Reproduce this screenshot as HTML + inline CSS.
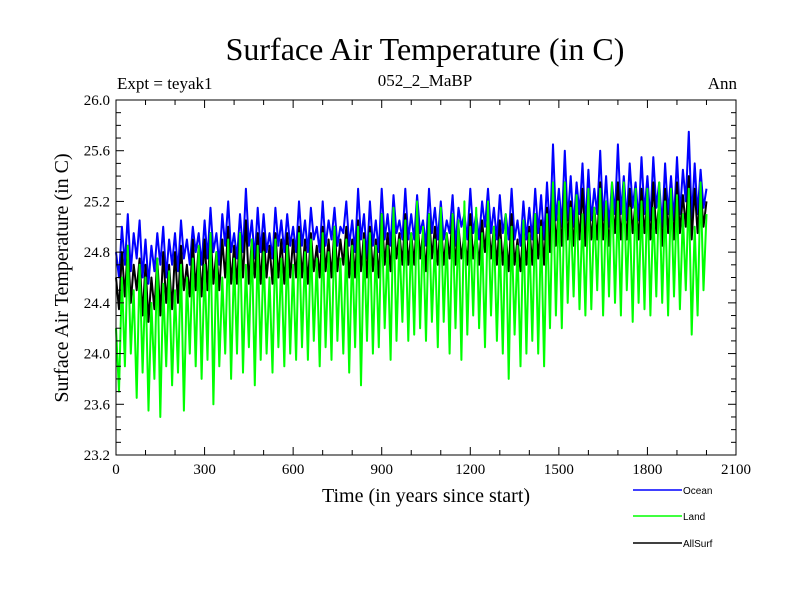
<!DOCTYPE html>
<html><head><meta charset="utf-8"><style>body{margin:0;background:#fff}svg{display:block}</style></head>
<body>
<svg id="chart" width="800" height="600" xmlns="http://www.w3.org/2000/svg">
<rect width="800" height="600" fill="#fff"/>
<text x="425" y="60" text-anchor="middle" font-family="Liberation Serif, serif" font-size="32">Surface Air Temperature (in C)</text>
<text x="117" y="89" font-family="Liberation Serif, serif" font-size="17">Expt = teyak1</text>
<text x="425" y="86" text-anchor="middle" font-family="Liberation Serif, serif" font-size="17">052_2_MaBP</text>
<text x="737" y="89" text-anchor="end" font-family="Liberation Serif, serif" font-size="17">Ann</text>
<text transform="translate(68,278) rotate(-90)" text-anchor="middle" font-family="Liberation Serif, serif" font-size="20">Surface Air Temperature (in C)</text>
<text x="426" y="502" text-anchor="middle" font-family="Liberation Serif, serif" font-size="20">Time (in years since start)</text>
<g id="series"></g>
<g id="axes"></g>
<g font-family="Liberation Sans, sans-serif" font-size="10">
<line x1="633" y1="490" x2="682" y2="490" stroke="#0000ff" stroke-width="1.5"/>
<text x="683" y="494">Ocean</text>
<line x1="633" y1="516" x2="682" y2="516" stroke="#00ff00" stroke-width="1.5"/>
<text x="683" y="520">Land</text>
<line x1="633" y1="543" x2="682" y2="543" stroke="#000" stroke-width="1.5"/>
<text x="683" y="547">AllSurf</text>
</g>
</svg>
<script>
const yearStep = 10;
const ocean = [
24.8,24.6,25.0,24.7,25.1,24.65,24.95,24.75,25.05,24.6,
24.9,24.55,24.85,24.65,24.95,24.7,25.0,24.6,24.9,24.7,
24.95,24.65,25.05,24.75,24.9,24.7,25.0,24.8,24.95,24.7,
25.05,24.75,25.15,24.8,24.95,24.7,25.1,24.85,25.2,24.8,
24.95,24.75,25.1,24.8,25.3,24.85,25.05,24.75,25.15,24.8,
25.1,24.8,24.95,24.75,25.15,24.85,25.05,24.8,25.1,24.85,
25.0,24.8,25.2,24.85,25.05,24.8,25.15,24.9,25.0,24.8,
25.2,24.85,25.05,24.9,25.15,24.85,25.0,24.95,25.2,24.85,
25.05,24.8,25.3,24.9,25.1,24.75,25.2,24.85,25.05,24.8,
25.3,24.9,25.1,24.85,25.25,24.95,25.05,24.9,25.3,24.9,
25.1,24.9,25.25,24.95,25.05,24.85,25.3,24.95,25.15,24.9,
25.2,24.9,25.05,24.95,25.25,24.85,25.15,25.0,25.1,24.9,
25.3,24.95,25.1,24.9,25.2,25.0,25.3,24.95,25.15,24.9,
25.25,24.95,25.1,24.9,25.3,24.9,25.05,24.85,25.2,24.9,
25.15,24.9,25.3,24.95,25.25,24.9,25.35,24.95,25.65,25.05,
25.3,25.0,25.6,25.05,25.4,25.0,25.35,25.1,25.5,25.0,
25.45,25.05,25.3,25.1,25.6,25.05,25.4,25.0,25.35,25.1,
25.65,25.1,25.4,25.05,25.5,25.15,25.35,25.05,25.55,25.1,
25.4,25.05,25.55,25.15,25.35,25.0,25.5,25.1,25.4,25.05,
25.55,25.1,25.45,25.2,25.75,25.05,25.5,25.1,25.45,25.15,
25.3];
const land = [
24.2,23.7,24.6,23.9,24.85,24.0,24.5,23.65,24.7,23.85,
24.6,23.55,24.4,23.8,24.75,23.5,24.55,23.9,24.65,23.75,
24.5,23.85,24.7,23.55,24.6,24.0,24.75,23.9,24.85,23.8,
24.7,23.95,24.95,23.6,24.8,23.9,24.6,24.0,24.9,23.8,
24.75,24.0,24.95,23.85,24.7,24.05,24.9,23.75,24.85,23.95,
24.8,24.0,24.6,23.85,24.9,24.05,24.75,23.9,24.85,24.0,
24.7,23.95,24.95,24.05,24.8,23.95,24.9,24.1,24.75,23.9,
24.95,24.05,24.8,23.95,25.0,24.1,24.75,24.0,24.9,23.85,
24.85,24.05,25.0,23.75,24.9,24.1,24.95,24.0,24.85,24.05,
25.1,24.2,24.85,23.95,25.15,24.1,24.9,24.25,25.05,24.1,
24.95,24.15,25.2,24.2,25.0,24.1,25.1,24.25,24.9,24.05,
25.15,24.25,24.95,24.0,25.1,24.2,25.05,23.95,25.2,24.15,
25.0,24.3,25.15,24.2,24.95,24.05,25.2,24.3,25.0,24.1,
24.9,24.0,25.1,23.8,25.0,24.15,24.85,23.9,25.05,24.0,
24.95,24.1,25.1,24.0,25.0,23.9,25.1,24.2,25.35,24.3,
25.2,24.2,25.35,24.4,25.15,24.45,25.25,24.35,25.1,24.3,
25.3,24.35,25.15,24.5,25.3,24.3,25.2,24.45,25.35,24.4,
25.2,24.3,25.35,24.5,25.15,24.25,25.3,24.4,25.2,24.35,
25.3,24.3,25.15,24.45,25.35,24.4,25.2,24.3,25.3,24.45,
25.25,24.35,25.1,24.5,25.3,24.15,25.0,24.3,25.35,24.5,
25.1];
const allSurf = [
24.6,24.35,24.8,24.45,24.85,24.4,24.7,24.5,24.75,24.3,
24.7,24.25,24.6,24.35,24.75,24.3,24.8,24.4,24.7,24.35,
24.8,24.4,24.85,24.5,24.7,24.45,24.9,24.5,24.85,24.45,
24.9,24.5,24.95,24.55,24.8,24.5,24.9,24.6,25.0,24.55,
24.85,24.55,24.95,24.6,25.05,24.55,24.9,24.6,24.95,24.55,
24.95,24.6,24.85,24.55,24.95,24.6,24.9,24.55,24.95,24.6,
24.9,24.6,25.0,24.6,24.9,24.55,24.95,24.65,24.85,24.6,
25.0,24.65,24.9,24.6,25.0,24.65,24.9,24.7,25.0,24.6,
24.9,24.6,25.05,24.65,24.95,24.6,25.0,24.65,24.9,24.6,
25.1,24.7,24.95,24.65,25.05,24.75,24.95,24.7,25.1,24.7,
24.95,24.7,25.1,24.75,24.95,24.65,25.1,24.75,25.0,24.7,
25.05,24.7,24.95,24.75,25.1,24.7,25.0,24.75,24.95,24.7,
25.1,24.75,24.95,24.7,25.05,24.8,25.1,24.75,25.0,24.7,
25.05,24.7,24.95,24.65,25.1,24.7,24.9,24.65,25.0,24.7,
25.0,24.7,25.1,24.75,25.05,24.7,25.15,24.8,25.3,24.85,
25.15,24.85,25.35,24.9,25.2,24.85,25.2,24.9,25.3,24.85,
25.25,24.9,25.15,24.9,25.35,24.9,25.2,24.85,25.2,24.95,
25.35,24.9,25.2,24.9,25.3,24.95,25.2,24.9,25.3,24.95,
25.2,24.9,25.35,24.95,25.2,24.85,25.3,24.95,25.25,24.9,
25.35,24.95,25.25,25.0,25.4,24.9,25.3,24.95,25.3,25.0,
25.2];
const xTicks = [0,300,600,900,1200,1500,1800,2100];
const yTicks = [23.2,23.6,24.0,24.4,24.8,25.2,25.6,26.0];

const L=116,R=736,T=100,B=455,X0=0,X1=2100,Y0=23.2,Y1=26.0;
const sx=v=>L+(v-X0)/(X1-X0)*(R-L);
const sy=v=>B-(v-Y0)/(Y1-Y0)*(B-T);
const NS='http://www.w3.org/2000/svg';
function mk(tag,attrs,parent){const e=document.createElementNS(NS,tag);for(const k in attrs)e.setAttribute(k,attrs[k]);parent.appendChild(e);return e;}
const sg=document.getElementById('series');
[[ocean,'#0000ff','ocean-line'],[allSurf,'#000000','allsurf-line'],[land,'#00ff00','land-line']].forEach(([d,c,n])=>{
  const pts=d.map((v,i)=>sx(i*yearStep).toFixed(1)+','+sy(v).toFixed(1)).join(' ');
  const p=mk('polyline',{points:pts,fill:'none',stroke:c,'stroke-width':2,'stroke-linejoin':'round'},sg);
  
  
});
const ax=document.getElementById('axes');
const frame=mk('rect',{x:L,y:T,width:R-L,height:B-T,fill:'none',stroke:'#000','stroke-width':1},ax);


for(let v=0;v<=2100;v+=100){
  const x=sx(v),len=(v%300===0)?8:5;
  const t1=mk('line',{x1:x,y1:B,x2:x,y2:B-len,stroke:'#000'},ax);
  
  
  const t2=mk('line',{x1:x,y1:T,x2:x,y2:T+len,stroke:'#000'},ax);
  
  
}
for(let i=0;i<=28;i++){
  const v=Y0+i*0.1,y=sy(v),len=(i%4===0)?8:5;
  const t1=mk('line',{x1:L,y1:y,x2:L+len,y2:y,stroke:'#000'},ax);
  
  
  const t2=mk('line',{x1:R,y1:y,x2:R-len,y2:y,stroke:'#000'},ax);
  
  
}
xTicks.forEach(v=>{
  const t=mk('text',{x:sx(v),y:B+19,'text-anchor':'middle','font-family':'Liberation Serif, serif','font-size':15},ax);
  t.textContent=v;
  
  
});
yTicks.forEach(v=>{
  const t=mk('text',{x:L-6,y:sy(v)+5,'text-anchor':'end','font-family':'Liberation Serif, serif','font-size':15},ax);
  t.textContent=v.toFixed(1);
  
  
});
</script>
</body></html>
